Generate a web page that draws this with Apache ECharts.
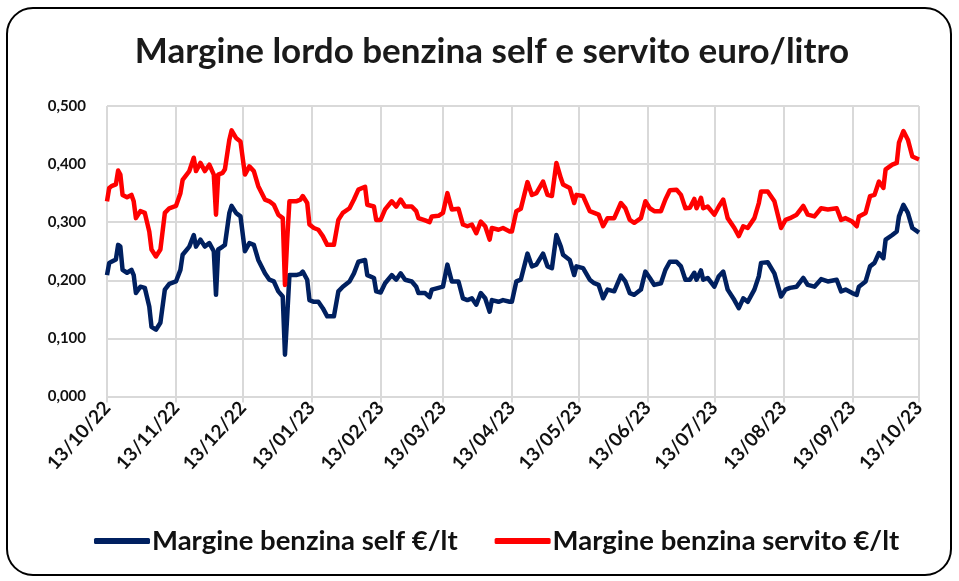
<!DOCTYPE html>
<html>
<head>
<meta charset="utf-8">
<script src="https://cdn.jsdelivr.net/npm/echarts@6/dist/echarts.min.js"></script>
<style>
html,body{margin:0;padding:0;background:#fff;}
#chart{width:959px;height:581px;}
</style>
</head>
<body>
<div id="chart"></div>
<script>
// ---- DATA ----
const chartTitle = 'Margine lordo benzina self e servito euro/litro';
const seriesNames = ['Margine benzina self €/lt', 'Margine benzina servito €/lt'];
const startDate = '2022-10-13';
const endDate = '2023-10-13';
const yTicks = [0, 0.1, 0.2, 0.3, 0.4, 0.5];

const sampleDates = [
 '13/10/22','14/10/22','15/10/22','17/10/22','18/10/22','19/10/22','20/10/22','22/10/22','24/10/22','25/10/22',
 '26/10/22','28/10/22','30/10/22','01/11/22','02/11/22','04/11/22','06/11/22','08/11/22','10/11/22','13/11/22',
 '15/11/22','16/11/22','19/11/22','21/11/22','22/11/22','24/11/22','26/11/22','28/11/22','30/11/22','01/12/22',
 '02/12/22','04/12/22','05/12/22','07/12/22','08/12/22','10/12/22','12/12/22','14/12/22','16/12/22','18/12/22',
 '20/12/22','23/12/22','25/12/22','27/12/22','29/12/22','31/12/22','01/01/23','02/01/23','03/01/23','06/01/23',
 '08/01/23','09/01/23','11/01/23','12/01/23','14/01/23','16/01/23','18/01/23','20/01/23','23/01/23','25/01/23',
 '27/01/23','30/01/23','01/02/23','03/02/23','06/02/23','07/02/23','10/02/23','11/02/23','13/02/23','15/02/23',
 '18/02/23','20/02/23','22/02/23','24/02/23','27/02/23','01/03/23','02/03/23','05/03/23','07/03/23','08/03/23',
 '11/03/23','13/03/23','15/03/23','17/03/23','20/03/23','22/03/23','24/03/23','26/03/23','28/03/23','30/03/23',
 '01/04/23','03/04/23','04/04/23','07/04/23','09/04/23','12/04/23','13/04/23','15/04/23','17/04/23','20/04/23',
 '22/04/23','24/04/23','27/04/23','29/04/23','01/05/23','03/05/23','05/05/23','06/05/23','09/05/23','11/05/23',
 '12/05/23','15/05/23','18/05/23','20/05/23','22/05/23','24/05/23','26/05/23','29/05/23','01/06/23','03/06/23',
 '05/06/23','07/06/23','10/06/23','12/06/23','14/06/23','16/06/23','19/06/23','21/06/23','23/06/23','26/06/23',
 '28/06/23','30/06/23','02/07/23','04/07/23','05/07/23','07/07/23','08/07/23','10/07/23','13/07/23','15/07/23',
 '17/07/23','19/07/23','22/07/23','24/07/23','26/07/23','28/07/23','31/07/23','02/08/23','03/08/23','06/08/23',
 '09/08/23','12/08/23','14/08/23','16/08/23','19/08/23','22/08/23','24/08/23','27/08/23','30/08/23','02/09/23',
 '06/09/23','08/09/23','10/09/23','13/09/23','15/09/23','16/09/23','19/09/23','21/09/23','23/09/23','25/09/23',
 '27/09/23','28/09/23','01/10/23','03/10/23','04/10/23','06/10/23','08/10/23','10/10/23','13/10/23'
];

const selfValues = [
 0.209,0.230,0.232,0.236,0.261,0.258,0.218,0.213,0.218,0.209,
 0.178,0.189,0.187,0.155,0.120,0.115,0.127,0.184,0.194,0.198,
 0.218,0.244,0.258,0.278,0.258,0.270,0.258,0.264,0.250,0.175,
 0.253,0.258,0.261,0.316,0.328,0.316,0.310,0.250,0.264,0.261,
 0.235,0.212,0.201,0.198,0.181,0.172,0.072,0.138,0.209,0.209,
 0.211,0.215,0.201,0.166,0.163,0.163,0.152,0.138,0.138,0.181,
 0.189,0.198,0.212,0.232,0.235,0.209,0.204,0.181,0.179,0.195,
 0.209,0.201,0.212,0.201,0.198,0.189,0.178,0.178,0.171,0.184,
 0.187,0.189,0.227,0.198,0.198,0.169,0.166,0.169,0.158,0.178,
 0.169,0.146,0.166,0.163,0.166,0.163,0.163,0.198,0.201,0.246,
 0.224,0.227,0.246,0.224,0.221,0.278,0.258,0.244,0.235,0.209,
 0.224,0.221,0.201,0.195,0.192,0.169,0.184,0.181,0.208,0.198,
 0.178,0.175,0.184,0.215,0.204,0.192,0.195,0.218,0.232,0.232,
 0.224,0.201,0.201,0.213,0.201,0.217,0.201,0.204,0.189,0.207,
 0.215,0.184,0.166,0.152,0.169,0.163,0.184,0.207,0.230,0.231,
 0.212,0.172,0.184,0.187,0.189,0.204,0.192,0.189,0.202,0.198,
 0.201,0.181,0.184,0.178,0.175,0.189,0.198,0.224,0.230,0.247,
 0.238,0.270,0.278,0.284,0.310,0.330,0.316,0.290,0.282
];

const servitoValues = [
 0.336,0.359,0.362,0.365,0.389,0.382,0.347,0.343,0.347,0.336,
 0.307,0.319,0.316,0.284,0.253,0.241,0.253,0.316,0.324,0.328,
 0.350,0.373,0.388,0.411,0.388,0.402,0.388,0.399,0.382,0.313,
 0.382,0.385,0.391,0.442,0.458,0.445,0.439,0.382,0.396,0.388,
 0.362,0.339,0.336,0.330,0.313,0.307,0.192,0.270,0.336,0.336,
 0.339,0.345,0.333,0.296,0.290,0.287,0.276,0.261,0.261,0.304,
 0.316,0.324,0.339,0.356,0.361,0.330,0.327,0.304,0.304,0.322,
 0.336,0.327,0.339,0.327,0.327,0.319,0.307,0.303,0.300,0.310,
 0.311,0.316,0.350,0.322,0.323,0.296,0.293,0.296,0.281,0.301,
 0.293,0.270,0.290,0.287,0.290,0.284,0.284,0.319,0.323,0.369,
 0.347,0.350,0.370,0.347,0.345,0.402,0.376,0.365,0.359,0.333,
 0.347,0.345,0.319,0.316,0.313,0.293,0.307,0.307,0.333,0.324,
 0.304,0.299,0.307,0.336,0.324,0.319,0.319,0.339,0.355,0.356,
 0.347,0.324,0.325,0.340,0.324,0.342,0.324,0.327,0.313,0.327,
 0.339,0.307,0.290,0.276,0.293,0.290,0.307,0.333,0.353,0.353,
 0.336,0.290,0.304,0.307,0.313,0.328,0.313,0.310,0.324,0.322,
 0.324,0.304,0.307,0.301,0.293,0.310,0.316,0.345,0.347,0.370,
 0.359,0.391,0.399,0.402,0.437,0.457,0.442,0.413,0.408
];

// ---- BUILD ----
function pad(n){ return (n < 10 ? '0' : '') + n; }
const categories = [];
(function(){
  const s = new Date(startDate + 'T00:00:00Z');
  const e = new Date(endDate + 'T00:00:00Z');
  for (let t = s.getTime(); t <= e.getTime(); t += 86400000) {
    const d = new Date(t);
    categories.push(pad(d.getUTCDate()) + '/' + pad(d.getUTCMonth() + 1) + '/' + String(d.getUTCFullYear()).slice(2));
  }
})();
const tickFn = (idx) => categories[idx].slice(0, 3) === '13/';

const FONT = "Lato, 'DejaVu Sans Condensed', sans-serif";
const GRID_COLOR = '#d9d9d9';

const chart = echarts.init(document.getElementById('chart'), null, {renderer: 'canvas'});
chart.setOption({
  animation: false,
  backgroundColor: '#ffffff',
  title: {
    text: chartTitle,
    left: 487,
    top: 29,
    textAlign: 'center',
    textStyle: {fontFamily: FONT, fontWeight: 'bold', fontSize: 35, color: '#1a1a1a'}
  },
  graphic: [{
    type: 'rect',
    shape: {x: 7, y: 8, width: 944, height: 567, r: 26},
    style: {fill: 'none', stroke: '#000', lineWidth: 2},
    silent: true
  }],
  legend: {
    left: 94,
    top: 527,
    padding: 0,
    itemWidth: 56,
    itemHeight: 6,
    itemGap: 37,
    icon: 'roundRect',
    textStyle: {fontFamily: FONT, fontWeight: 'bold', fontSize: 27.5, color: '#111', padding: [0, 0, 0, -3]},
    data: seriesNames
  },
  grid: {left: 107, right: 40, top: 106, bottom: 184.5, containLabel: false},
  xAxis: {
    type: 'category',
    data: categories,
    boundaryGap: false,
    axisLine: {show: true, lineStyle: {color: GRID_COLOR, width: 2}},
    axisTick: {show: true, interval: tickFn, length: 6, lineStyle: {color: GRID_COLOR, width: 2}},
    splitLine: {show: true, interval: tickFn, lineStyle: {color: GRID_COLOR, width: 2}},
    axisLabel: {
      interval: tickFn,
      rotate: 48,
      margin: 8,
      fontFamily: FONT, fontWeight: 'bold', fontSize: 19, color: '#111'
    }
  },
  yAxis: {
    type: 'value',
    min: yTicks[0],
    max: yTicks[yTicks.length - 1],
    interval: 0.1,
    axisLine: {show: false},
    axisTick: {show: false},
    splitLine: {show: true, lineStyle: {color: GRID_COLOR, width: 2}},
    axisLabel: {
      margin: 21,
      fontFamily: FONT, fontWeight: 'bold', fontSize: 15, color: '#111',
      formatter: v => v.toFixed(3).replace('.', ',')
    }
  },
  series: [
    {
      name: seriesNames[0],
      type: 'line',
      showSymbol: false,
      symbol: 'none',
      color: '#002060',
      lineStyle: {width: 4.5, color: '#002060', join: 'round'},
      data: sampleDates.map((d, i) => [d, selfValues[i]])
    },
    {
      name: seriesNames[1],
      type: 'line',
      showSymbol: false,
      symbol: 'none',
      color: '#ff0000',
      lineStyle: {width: 4.5, color: '#ff0000', join: 'round'},
      data: sampleDates.map((d, i) => [d, servitoValues[i]])
    }
  ]
});
</script>
</body>
</html>
